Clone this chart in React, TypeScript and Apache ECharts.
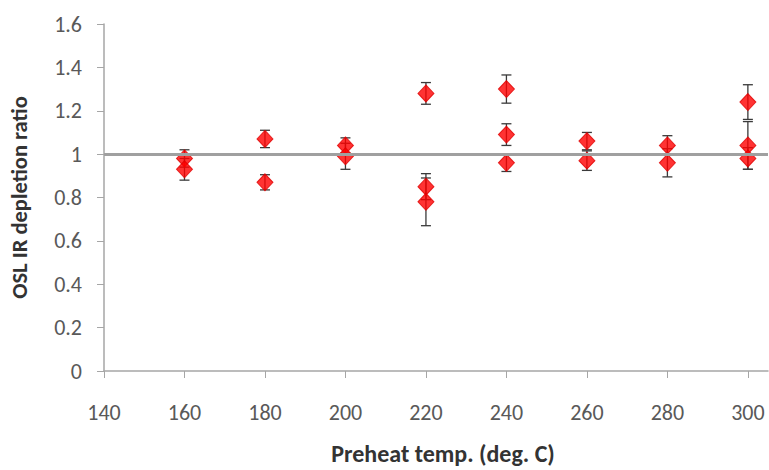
import React, { useEffect, useRef } from "react";
import * as echarts from "echarts";

// Preheat temperature (deg. C) for each aliquot
const temps = [160, 160, 180, 180, 200, 200, 220, 220, 220, 240, 240, 240, 260, 260, 280, 280, 300, 300, 300];
// OSL IR depletion ratio
const ratios = [0.98, 0.93, 1.07, 0.87, 1.04, 0.99, 1.28, 0.85, 0.78, 1.3, 1.09, 0.96, 1.06, 0.97, 1.04, 0.96, 1.24, 1.04, 0.98];
// one-sigma uncertainty on each ratio
const errors = [0.04, 0.05, 0.04, 0.035, 0.035, 0.06, 0.05, 0.06, 0.11, 0.065, 0.05, 0.04, 0.04, 0.045, 0.045, 0.065, 0.08, 0.11, 0.05];

const xTicks = [140, 160, 180, 200, 220, 240, 260, 280, 300];
const referenceRatio = 1;

const FONT = "Carlito, Lato, 'Liberation Sans', sans-serif";

export default function App() {
  const ref = useRef<HTMLDivElement>(null);

  useEffect(() => {
    if (!ref.current) return;
    const chart = echarts.init(ref.current, null, { renderer: "svg" });

    const points = temps.map((t, i) => [t, ratios[i]]);
    const bars = temps.map((t, i) => [t, ratios[i] - errors[i], ratios[i] + errors[i]]);

    chart.setOption({
      animation: false,
      backgroundColor: "#ffffff",
      grid: { left: 103, right: 1, top: 24, bottom: 92, containLabel: false },
      xAxis: {
        type: "value",
        min: 140,
        max: 305,
        interval: 20,
        name: "Preheat temp. (deg. C)",
        nameLocation: "middle",
        nameGap: 70,
        nameTextStyle: {
          fontFamily: FONT,
          fontSize: 24,
          fontWeight: "bold",
          color: "#333333",
          padding: [0, 0, 0, 14],
        },
        axisLine: { show: true, lineStyle: { color: "#a6a6a6", width: 1.5 } },
        axisTick: { show: true, length: 7, customValues: xTicks, lineStyle: { color: "#a6a6a6" } },
        axisLabel: {
          customValues: xTicks,
          margin: 30,
          fontFamily: FONT,
          fontSize: 22,
          color: "#595959",
        },
        splitLine: { show: false },
      },
      yAxis: {
        type: "value",
        min: 0,
        max: 1.6,
        interval: 0.2,
        name: "OSL IR depletion ratio",
        nameLocation: "middle",
        nameGap: 73,
        nameTextStyle: { fontFamily: FONT, fontSize: 22.5, fontWeight: "bold", color: "#333333" },
        axisLine: { show: true, lineStyle: { color: "#a6a6a6", width: 1.5 } },
        axisTick: { show: true, length: 7, lineStyle: { color: "#a6a6a6" } },
        axisLabel: { margin: 22, fontFamily: FONT, fontSize: 22, color: "#595959" },
        splitLine: { show: false },
      },
      series: [
        {
          type: "custom",
          name: "error",
          z: 2,
          data: bars,
          renderItem: (_params: any, api: any) => {
            const x = api.value(0);
            const lo = api.coord([x, api.value(1)]);
            const hi = api.coord([x, api.value(2)]);
            const half = 5;
            const style = { stroke: "#3a3a3a", lineWidth: 1.3 };
            return {
              type: "group",
              children: [
                { type: "line", shape: { x1: hi[0], y1: hi[1], x2: lo[0], y2: lo[1] }, style },
                { type: "line", shape: { x1: hi[0] - half, y1: hi[1], x2: hi[0] + half, y2: hi[1] }, style },
                { type: "line", shape: { x1: lo[0] - half, y1: lo[1], x2: lo[0] + half, y2: lo[1] }, style },
              ],
            };
          },
        },
        {
          type: "scatter",
          name: "ratio",
          z: 3,
          data: points,
          symbol: "diamond",
          symbolSize: [16, 17],
          itemStyle: { color: "#ff0000", borderColor: "#e00000", borderWidth: 1 },
          markLine: {
            silent: true,
            symbol: "none",
            label: { show: false },
            lineStyle: { color: "#a0a0a0", width: 3, type: "solid" },
            data: [{ yAxis: referenceRatio }],
          },
        },
      ],
    });

    return () => chart.dispose();
  }, []);

  return <div ref={ref} style={{ width: 769, height: 470, position: "absolute", left: 0, top: 0 }} />;
}
